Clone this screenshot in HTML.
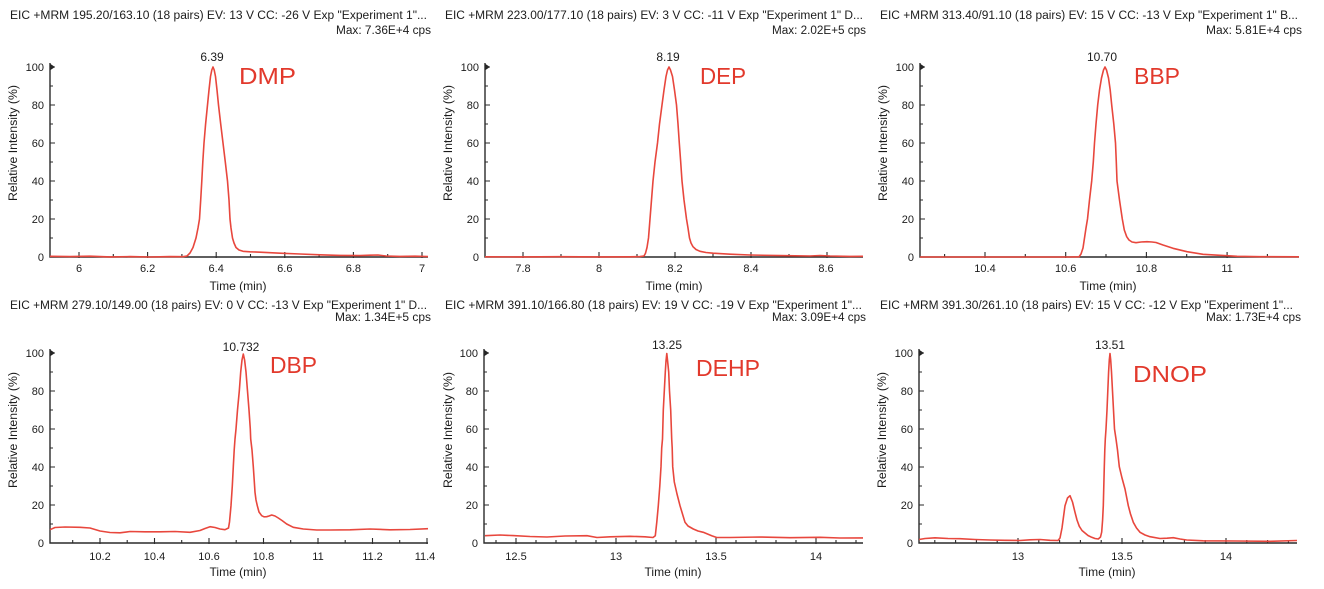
<!DOCTYPE html>
<html><head><meta charset="utf-8">
<style>
html,body{margin:0;padding:0;background:#fff;}
svg{display:block;}
text{font-family:"Liberation Sans",Arial,sans-serif;fill:#1c1c1c;}
.t{font-size:11.5px;}
.pk{font-size:12px;text-anchor:middle;}
.ax{font-size:12px;text-anchor:middle;}
.yl{font-size:11.5px;text-anchor:middle;}
.ye{font-size:11px;text-anchor:end;}
.xm{font-size:11px;text-anchor:middle;}
.cmp{font-size:23px;fill:#e2392c;font-weight:500;}
.axis{stroke:#2a2a2a;stroke-width:1.4;fill:none;}
.tick{stroke:#2a2a2a;stroke-width:1.1;fill:none;}
.ln{stroke:#e8473d;stroke-width:1.6;fill:none;stroke-linejoin:round;}
</style></head>
<body>
<svg width="1324" height="589" viewBox="0 0 1324 589" xmlns="http://www.w3.org/2000/svg">
<rect width="1324" height="589" fill="#fff"/>

<!-- ================= PANEL 1 DMP ================= -->
<text class="t" x="10" y="19" textLength="417" lengthAdjust="spacingAndGlyphs">EIC +MRM 195.20/163.10 (18 pairs) EV: 13 V CC: -26 V Exp "Experiment 1"...</text>
<text class="t" x="336" y="34" textLength="95" lengthAdjust="spacingAndGlyphs">Max: 7.36E+4 cps</text>
<path class="axis" d="M50,63V257H428"/>
<path d="M50.5,64L55,67L50.5,70Z" fill="#222"/>
<path class="tick" d="M50,219h5M50,181h5M50,143h5M50,105h5M50,67h5M50,238h3M50,200h3M50,162h3M50,124h3M50,86h3"/>
<path class="tick" d="M79,258v-6M147.6,258v-6M216.2,258v-6M284.8,258v-6M353.4,258v-6M422,258v-6M113.3,257v-3M181.9,257v-3M250.5,257v-3M319.1,257v-3M387.7,257v-3"/>
<text class="ye" x="44" y="261">0</text><text class="ye" x="44" y="223">20</text><text class="ye" x="44" y="185">40</text><text class="ye" x="44" y="147">60</text><text class="ye" x="44" y="109">80</text><text class="ye" x="44" y="71">100</text>
<text class="xm" x="79" y="272">6</text><text class="xm" x="147.6" y="272">6.2</text><text class="xm" x="216.2" y="272">6.4</text><text class="xm" x="284.8" y="272">6.6</text><text class="xm" x="353.4" y="272">6.8</text><text class="xm" x="422" y="272">7</text>
<text class="ax" x="238" y="290" textLength="57" lengthAdjust="spacingAndGlyphs">Time (min)</text>
<text class="yl" transform="translate(17,143) rotate(-90)" textLength="116" lengthAdjust="spacingAndGlyphs">Relative Intensity (%)</text>
<text class="pk" x="212" y="61">6.39</text>
<text class="cmp" x="239" y="84" textLength="57" lengthAdjust="spacingAndGlyphs">DMP</text>
<polyline class="ln" points="50,256.3 70,256.6 90,256.2 110,256.9 130,256.6 150,257 170,256.6 183,256.7 187,256 190,253 193,247.5 196,238 198,228 199.5,219 200.7,200 201.8,181 202.8,162 204,143 205.6,124 207.5,105 209,90 210.5,76.5 211.8,70 213,67 214.2,70 215.5,76.5 217,90 218.5,105 220.7,124 223,143 225.3,162 227.5,181 229,200 230,219 231,228 232.5,238 234,243 236,247.5 239,250 243,251.3 250,251.8 260,252.2 280,253.2 300,254 320,254.8 340,255.4 360,255.6 370,255.2 378,255 386,256 400,256.4 415,256.2 428,256.5"/>

<!-- ================= PANEL 2 DEP ================= -->
<text class="t" x="445" y="19" textLength="418" lengthAdjust="spacingAndGlyphs">EIC +MRM 223.00/177.10 (18 pairs) EV: 3 V CC: -11 V Exp "Experiment 1" D...</text>
<text class="t" x="772" y="34" textLength="94" lengthAdjust="spacingAndGlyphs">Max: 2.02E+5 cps</text>
<path class="axis" d="M485,63V257H863"/>
<path d="M485.5,64L490,67L485.5,70Z" fill="#222"/>
<path class="tick" d="M485,219h5M485,181h5M485,143h5M485,105h5M485,67h5M485,238h3M485,200h3M485,162h3M485,124h3M485,86h3"/>
<path class="tick" d="M523,258v-6M599,258v-6M675,258v-6M751,258v-6M827,258v-6M561,257v-3M637,257v-3M713,257v-3M789,257v-3"/>
<text class="ye" x="479" y="261">0</text><text class="ye" x="479" y="223">20</text><text class="ye" x="479" y="185">40</text><text class="ye" x="479" y="147">60</text><text class="ye" x="479" y="109">80</text><text class="ye" x="479" y="71">100</text>
<text class="xm" x="523" y="272">7.8</text><text class="xm" x="599" y="272">8</text><text class="xm" x="675" y="272">8.2</text><text class="xm" x="751" y="272">8.4</text><text class="xm" x="826" y="272">8.6</text>
<text class="ax" x="674" y="290" textLength="57" lengthAdjust="spacingAndGlyphs">Time (min)</text>
<text class="yl" transform="translate(452,143) rotate(-90)" textLength="116" lengthAdjust="spacingAndGlyphs">Relative Intensity (%)</text>
<text class="pk" x="668" y="61">8.19</text>
<text class="cmp" x="700" y="84" textLength="46" lengthAdjust="spacingAndGlyphs">DEP</text>
<polyline class="ln" points="485,256.8 520,256.9 560,256.7 600,256.9 630,256.8 640,256.6 644,256 645.5,253.2 647,247.5 648.5,238 650,219 651.5,200 653,181 655,162 657.5,143 659.5,124 662,105 664,90 666,76.5 667.5,70 669,67 670.5,70 672.5,76.5 674.5,90 676.5,105 678,124 679.3,143 680.7,162 682,181 684,200 686.5,219 688,228 689.5,238 691,243 693,246.7 696,249.5 700,251.3 706,252.5 713,253.2 730,254.2 750,255 780,255.6 810,256 820,255.5 830,256 850,256.4 863,256.3"/>

<!-- ================= PANEL 3 BBP ================= -->
<text class="t" x="880" y="19" textLength="418" lengthAdjust="spacingAndGlyphs">EIC +MRM 313.40/91.10 (18 pairs) EV: 15 V CC: -13 V Exp "Experiment 1" B...</text>
<text class="t" x="1206" y="34" textLength="96" lengthAdjust="spacingAndGlyphs">Max: 5.81E+4 cps</text>
<path class="axis" d="M920,63V257H1299"/>
<path d="M920.5,64L925,67L920.5,70Z" fill="#222"/>
<path class="tick" d="M920,219h5M920,181h5M920,143h5M920,105h5M920,67h5M920,238h3M920,200h3M920,162h3M920,124h3M920,86h3"/>
<path class="tick" d="M985,258v-6M1065.7,258v-6M1146.4,258v-6M1227.1,258v-6M944.6,257v-3M1025.3,257v-3M1106,257v-3M1186.7,257v-3M1267.4,257v-3"/>
<text class="ye" x="914" y="261">0</text><text class="ye" x="914" y="223">20</text><text class="ye" x="914" y="185">40</text><text class="ye" x="914" y="147">60</text><text class="ye" x="914" y="109">80</text><text class="ye" x="914" y="71">100</text>
<text class="xm" x="985" y="272">10.4</text><text class="xm" x="1065.7" y="272">10.6</text><text class="xm" x="1146.4" y="272">10.8</text><text class="xm" x="1227.1" y="272">11</text>
<text class="ax" x="1108" y="290" textLength="57" lengthAdjust="spacingAndGlyphs">Time (min)</text>
<text class="yl" transform="translate(887,143) rotate(-90)" textLength="116" lengthAdjust="spacingAndGlyphs">Relative Intensity (%)</text>
<text class="pk" x="1102" y="61">10.70</text>
<text class="cmp" x="1134" y="84" textLength="46" lengthAdjust="spacingAndGlyphs">BBP</text>
<polyline class="ln" points="920,257 960,257 1000,257 1040,257 1070,257 1079,256.8 1081,254 1083,248 1084.5,238 1086,228 1087.5,219 1089.5,200 1091.7,181 1093.3,162 1094.5,143 1096,124 1097.7,105 1099.5,90 1101.5,78 1103.5,70 1105,67 1106.5,70 1108.5,78 1110.2,90 1111.7,105 1113.8,124 1115.5,143 1116.3,162 1117,181 1119.5,200 1122.3,219 1124.3,230 1126.7,236.7 1129,240 1132,242 1136,242.7 1141,242 1147,241.7 1152,242 1156,242.5 1163,245 1173,248.3 1187,251.7 1203,254.3 1220,255.3 1237,256.3 1260,256.7 1299,256.8"/>

<!-- ================= PANEL 4 DBP ================= -->
<text class="t" x="10" y="309" textLength="417" lengthAdjust="spacingAndGlyphs">EIC +MRM 279.10/149.00 (18 pairs) EV: 0 V CC: -13 V Exp "Experiment 1" D...</text>
<text class="t" x="335" y="321" textLength="96" lengthAdjust="spacingAndGlyphs">Max: 1.34E+5 cps</text>
<path class="axis" d="M50,349V543H428"/>
<path d="M50.5,350L55,353L50.5,356Z" fill="#222"/>
<path class="tick" d="M50,505h5M50,467h5M50,429h5M50,391h5M50,353h5M50,524h3M50,486h3M50,448h3M50,410h3M50,372h3"/>
<path class="tick" d="M100,544v-6M154.5,544v-6M209,544v-6M263.5,544v-6M318,544v-6M372.5,544v-6M427,544v-6M72.7,543v-3M127.2,543v-3M181.7,543v-3M236.2,543v-3M290.7,543v-3M345.2,543v-3M399.7,543v-3"/>
<text class="ye" x="44" y="547">0</text><text class="ye" x="44" y="509">20</text><text class="ye" x="44" y="471">40</text><text class="ye" x="44" y="433">60</text><text class="ye" x="44" y="395">80</text><text class="ye" x="44" y="357">100</text>
<text class="xm" x="100" y="560">10.2</text><text class="xm" x="154.5" y="560">10.4</text><text class="xm" x="209" y="560">10.6</text><text class="xm" x="263.5" y="560">10.8</text><text class="xm" x="318" y="560">11</text><text class="xm" x="372.5" y="560">11.2</text><text class="xm" x="425" y="560">11.4</text>
<text class="ax" x="238" y="576" textLength="57" lengthAdjust="spacingAndGlyphs">Time (min)</text>
<text class="yl" transform="translate(17,430) rotate(-90)" textLength="116" lengthAdjust="spacingAndGlyphs">Relative Intensity (%)</text>
<text class="pk" x="241" y="351">10.732</text>
<text class="cmp" x="270" y="373" textLength="47" lengthAdjust="spacingAndGlyphs">DBP</text>
<polyline class="ln" points="50,529.7 55,527.5 65,527 80,527.3 90,528 100,531 110,532.5 120,532.8 130,531.5 145,531.8 160,531.8 175,531.5 190,532.3 200,530.5 205,528.5 210,526.7 215,527.5 220,529 225,529.7 228.5,528 229.5,522 231,505.7 232.3,486 233.3,466.7 234.2,450 235,439 236,429 237.5,410 239.3,391 240.7,372 242,360 243.3,354 244.6,360 246,372 247.5,391 249,410 250.3,429 250.7,439 252,450 253.3,466.7 254.2,480 255,492.3 256,500 257.3,505.7 259,512 261.7,515.7 264,516.8 266.7,516.7 269,516 271.7,515 275,516 278.3,518 282,520.5 286.7,524 293.3,527.3 303.3,529 316.7,530 330,530 350,529.8 370,529 390,529.8 410,529.5 428,528.7"/>

<!-- ================= PANEL 5 DEHP ================= -->
<text class="t" x="445" y="309" textLength="417" lengthAdjust="spacingAndGlyphs">EIC +MRM 391.10/166.80 (18 pairs) EV: 19 V CC: -19 V Exp "Experiment 1"...</text>
<text class="t" x="772" y="321" textLength="94" lengthAdjust="spacingAndGlyphs">Max: 3.09E+4 cps</text>
<path class="axis" d="M484,349V543H863"/>
<path d="M484.5,350L489,353L484.5,356Z" fill="#222"/>
<path class="tick" d="M484,505h5M484,467h5M484,429h5M484,391h5M484,353h5M484,524h3M484,486h3M484,448h3M484,410h3M484,372h3"/>
<path class="tick" d="M516,544v-6M616,544v-6M716,544v-6M816,544v-6M496,543v-3M536,543v-3M556,543v-3M576,543v-3M596,543v-3M636,543v-3M656,543v-3M676,543v-3M696,543v-3M736,543v-3M756,543v-3M776,543v-3M796,543v-3M836,543v-3M856,543v-3"/>
<text class="ye" x="478" y="547">0</text><text class="ye" x="478" y="509">20</text><text class="ye" x="478" y="471">40</text><text class="ye" x="478" y="433">60</text><text class="ye" x="478" y="395">80</text><text class="ye" x="478" y="357">100</text>
<text class="xm" x="516" y="560">12.5</text><text class="xm" x="616" y="560">13</text><text class="xm" x="716" y="560">13.5</text><text class="xm" x="816" y="560">14</text>
<text class="ax" x="673" y="576" textLength="57" lengthAdjust="spacingAndGlyphs">Time (min)</text>
<text class="yl" transform="translate(452,430) rotate(-90)" textLength="116" lengthAdjust="spacingAndGlyphs">Relative Intensity (%)</text>
<text class="pk" x="667" y="349">13.25</text>
<text class="cmp" x="696" y="376" textLength="64" lengthAdjust="spacingAndGlyphs">DEHP</text>
<polyline class="ln" points="485,535.7 500,535 513,535.6 530,536.5 547,537 565,536 587,535.7 597,537.5 610,536.8 630,536.3 645,536.8 653,537.5 655.3,535.7 656.8,522 658.3,505.7 659.8,486 661,466.7 661.7,448 662.5,439 663.3,410 664.3,391 665.3,372 666,361 666.8,353.5 667.6,361 668.7,372 669.5,391 670.7,410 671.7,439 672.2,448 672.7,466.7 674.3,482 677,494 680,505.7 682.5,514 685,522.3 688,526 693.3,529 698,531 703.3,532.3 711.7,535.7 716.7,537.5 730,537.5 760,537 790,537.7 820,537.3 840,538 863,537.9"/>

<!-- ================= PANEL 6 DNOP ================= -->
<text class="t" x="880" y="309" textLength="413" lengthAdjust="spacingAndGlyphs">EIC +MRM 391.30/261.10 (18 pairs) EV: 15 V CC: -12 V Exp "Experiment 1"...</text>
<text class="t" x="1206" y="321" textLength="95" lengthAdjust="spacingAndGlyphs">Max: 1.73E+4 cps</text>
<path class="axis" d="M919,349V543H1297"/>
<path d="M919.5,350L924,353L919.5,356Z" fill="#222"/>
<path class="tick" d="M919,505h5M919,467h5M919,429h5M919,391h5M919,353h5M919,524h3M919,486h3M919,448h3M919,410h3M919,372h3"/>
<path class="tick" d="M1018,544v-6M1122,544v-6M1226,544v-6M934.8,543v-3M955.6,543v-3M976.4,543v-3M997.2,543v-3M1038.8,543v-3M1059.6,543v-3M1080.4,543v-3M1101.2,543v-3M1142.8,543v-3M1163.6,543v-3M1184.4,543v-3M1205.2,543v-3M1246.8,543v-3M1267.6,543v-3M1288.4,543v-3"/>
<text class="ye" x="913" y="547">0</text><text class="ye" x="913" y="509">20</text><text class="ye" x="913" y="471">40</text><text class="ye" x="913" y="433">60</text><text class="ye" x="913" y="395">80</text><text class="ye" x="913" y="357">100</text>
<text class="xm" x="1018" y="560">13</text><text class="xm" x="1122" y="560">13.5</text><text class="xm" x="1226" y="560">14</text>
<text class="ax" x="1107" y="576" textLength="57" lengthAdjust="spacingAndGlyphs">Time (min)</text>
<text class="yl" transform="translate(886,430) rotate(-90)" textLength="116" lengthAdjust="spacingAndGlyphs">Relative Intensity (%)</text>
<text class="pk" x="1110" y="349">13.51</text>
<text class="cmp" x="1133" y="382" textLength="74" lengthAdjust="spacingAndGlyphs">DNOP</text>
<polyline class="ln" points="919,539.5 925,538.5 935,537.8 948,538.5 960,538.7 975,539.5 990,540 1005,540.3 1020,540.5 1030,539.8 1040,539.5 1050,540.3 1058,540.5 1060,538 1062,528 1065,505.7 1067.5,498 1070,495.7 1072.5,502 1075,512.3 1077,520 1079.3,526.3 1082,530.5 1085,533 1088,535.5 1091.7,537.3 1095,538.5 1098.3,539 1100.5,537 1101.7,532 1102.6,520 1103.3,505.7 1103.8,486 1104.3,466.7 1104.8,450 1105.3,439 1106,429 1107,410 1107.8,391 1108.6,372 1109.3,360 1110,353.5 1110.7,360 1111.5,372 1112.5,391 1113.5,410 1114.5,429 1116,439 1117.5,450 1119.3,466.7 1122,478 1125,489 1128.3,505.7 1130.5,514 1133.3,522.3 1136.5,528 1140,532.3 1145,535 1150,536.7 1160,538.5 1167,538.2 1173.3,537.7 1180,539 1186.7,540 1203.3,540.8 1236.7,541 1270,541.3 1297,540.5"/>
</svg>
</body></html>
